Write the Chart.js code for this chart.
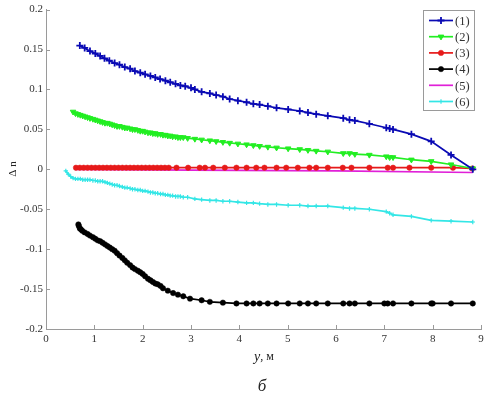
<!DOCTYPE html>
<html>
<head>
<meta charset="utf-8">
<script src="https://cdn.jsdelivr.net/npm/chart.js@4/dist/chart.umd.min.js"></script>
<style>
html,body{margin:0;padding:0;background:#fff;}
#wrap{width:489px;height:394px;position:relative;}
</style>
</head>
<body>
<div id="wrap"><canvas id="c" width="489" height="394"></canvas></div>
<script>
// ---- data ----
const seriesNames = ["(1)", "(2)", "(3)", "(4)", "(5)", "(6)"];
const xTicks = [0, 1, 2, 3, 4, 5, 6, 7, 8, 9];
const yTicks = [-0.2, -0.15, -0.1, -0.05, 0, 0.05, 0.1, 0.15, 0.2];

const x1 = [0.70,0.80,0.91,1.02,1.12,1.21,1.31,1.42,1.52,1.63,1.74,1.84,1.95,2.05,2.16,2.26,2.36,2.47,2.57,2.68,2.78,2.88,3.00,3.08,3.22,3.39,3.52,3.66,3.80,3.97,4.15,4.29,4.42,4.59,4.77,5.01,5.25,5.42,5.59,5.83,6.15,6.28,6.39,6.69,7.04,7.11,7.18,7.56,7.97,8.38,8.83];
const y1 = [0.155,0.152,0.148,0.145,0.142,0.139,0.136,0.133,0.131,0.128,0.126,0.123,0.121,0.119,0.117,0.115,0.113,0.111,0.109,0.107,0.105,0.104,0.102,0.100,0.097,0.095,0.093,0.091,0.088,0.086,0.084,0.082,0.081,0.079,0.077,0.075,0.073,0.071,0.069,0.067,0.064,0.062,0.061,0.057,0.052,0.051,0.050,0.044,0.035,0.018,0.000];

const x2 = [0.56,0.61,0.66,0.71,0.76,0.81,0.86,0.91,0.97,1.02,1.07,1.12,1.17,1.22,1.27,1.32,1.37,1.42,1.47,1.52,1.58,1.63,1.68,1.74,1.79,1.84,1.90,1.95,2.00,2.05,2.11,2.16,2.21,2.26,2.31,2.37,2.42,2.47,2.52,2.57,2.62,2.68,2.73,2.78,2.84,2.93,3.08,3.22,3.39,3.52,3.66,3.80,3.97,4.15,4.29,4.42,4.59,4.77,5.01,5.25,5.42,5.59,5.83,6.15,6.28,6.39,6.69,7.04,7.11,7.18,7.56,7.97,8.38,8.83];
const y2 = [0.072,0.070,0.069,0.068,0.067,0.066,0.065,0.064,0.063,0.062,0.061,0.060,0.059,0.058,0.058,0.057,0.056,0.055,0.054,0.054,0.053,0.052,0.052,0.051,0.050,0.050,0.049,0.048,0.048,0.047,0.046,0.046,0.045,0.045,0.044,0.044,0.043,0.043,0.042,0.042,0.041,0.041,0.040,0.040,0.040,0.039,0.038,0.037,0.036,0.035,0.034,0.033,0.032,0.031,0.030,0.029,0.028,0.027,0.026,0.025,0.024,0.023,0.022,0.020,0.020,0.019,0.018,0.016,0.015,0.015,0.012,0.010,0.006,0.001];

const x3 = [0.62,0.70,0.78,0.86,0.94,1.02,1.10,1.18,1.26,1.34,1.42,1.50,1.58,1.66,1.74,1.82,1.90,1.98,2.06,2.14,2.22,2.30,2.38,2.46,2.54,2.70,2.94,3.18,3.29,3.46,3.70,3.94,4.15,4.35,4.52,4.77,4.97,5.21,5.45,5.59,5.83,6.14,6.32,6.69,7.07,7.18,7.52,7.97,8.42,8.82];
const y3 = [0.002,0.002,0.002,0.002,0.002,0.002,0.002,0.002,0.002,0.002,0.002,0.002,0.002,0.002,0.002,0.002,0.002,0.002,0.002,0.002,0.002,0.002,0.002,0.002,0.002,0.002,0.002,0.002,0.002,0.002,0.002,0.002,0.002,0.002,0.002,0.002,0.002,0.002,0.002,0.002,0.002,0.002,0.002,0.002,0.002,0.002,0.002,0.002,0.002,0.001];

const x4 = [0.67,0.68,0.70,0.72,0.75,0.80,0.86,0.91,0.97,1.02,1.07,1.12,1.17,1.22,1.27,1.32,1.37,1.42,1.47,1.52,1.58,1.63,1.68,1.74,1.79,1.84,1.90,1.95,2.00,2.05,2.11,2.16,2.21,2.26,2.31,2.37,2.42,2.52,2.63,2.73,2.84,2.98,3.22,3.39,3.66,3.94,4.15,4.29,4.42,4.59,4.77,5.01,5.25,5.42,5.59,5.83,6.15,6.28,6.39,6.69,7.00,7.07,7.18,7.56,7.97,8.00,8.38,8.83];
const y4 = [-0.069,-0.071,-0.074,-0.075,-0.077,-0.079,-0.081,-0.083,-0.085,-0.087,-0.089,-0.090,-0.092,-0.094,-0.096,-0.098,-0.100,-0.102,-0.105,-0.108,-0.111,-0.114,-0.117,-0.120,-0.123,-0.125,-0.127,-0.129,-0.131,-0.134,-0.137,-0.139,-0.141,-0.143,-0.144,-0.146,-0.149,-0.152,-0.155,-0.157,-0.159,-0.162,-0.164,-0.166,-0.167,-0.168,-0.168,-0.168,-0.168,-0.168,-0.168,-0.168,-0.168,-0.168,-0.168,-0.168,-0.168,-0.168,-0.168,-0.168,-0.168,-0.168,-0.168,-0.168,-0.168,-0.168,-0.168,-0.168];

const x5 = [0.60, 3.00, 6.00, 8.83];
const y5 = [0.000, -0.001, -0.002, -0.004];

const x6 = [0.41,0.46,0.51,0.56,0.61,0.66,0.71,0.76,0.81,0.86,0.91,0.97,1.02,1.07,1.12,1.17,1.22,1.27,1.32,1.37,1.42,1.47,1.52,1.58,1.63,1.68,1.74,1.79,1.84,1.90,1.95,2.00,2.05,2.11,2.16,2.21,2.26,2.31,2.37,2.42,2.47,2.52,2.57,2.62,2.68,2.73,2.78,2.84,2.93,3.08,3.22,3.39,3.52,3.66,3.80,3.97,4.15,4.29,4.42,4.59,4.77,5.01,5.25,5.42,5.59,5.83,6.15,6.28,6.39,6.69,7.04,7.11,7.18,7.56,7.97,8.38,8.83];
const y6 = [-0.002,-0.006,-0.009,-0.011,-0.012,-0.012,-0.012,-0.013,-0.013,-0.013,-0.013,-0.014,-0.014,-0.015,-0.015,-0.015,-0.016,-0.017,-0.018,-0.019,-0.020,-0.020,-0.021,-0.022,-0.023,-0.023,-0.024,-0.025,-0.025,-0.026,-0.026,-0.027,-0.027,-0.028,-0.029,-0.029,-0.030,-0.030,-0.031,-0.031,-0.032,-0.032,-0.033,-0.033,-0.034,-0.034,-0.034,-0.035,-0.035,-0.037,-0.038,-0.039,-0.039,-0.040,-0.040,-0.041,-0.042,-0.042,-0.043,-0.044,-0.044,-0.045,-0.045,-0.046,-0.046,-0.046,-0.048,-0.049,-0.049,-0.050,-0.053,-0.055,-0.057,-0.059,-0.064,-0.065,-0.066];

// ---- build ----
function pts(xs, ys){ return xs.map((x,i)=>({x:x, y:ys[i]})); }
const SERIF = "'Liberation Serif', 'DejaVu Serif', serif";

const datasets = [
  {label: seriesNames[0], data: pts(x1,y1), borderColor:'#0a0ab4', backgroundColor:'#0a0ab4', pointStyle:'cross', pointRadius:3.5, pointBorderWidth:1.8, borderWidth:1.7},
  {label: seriesNames[1], data: pts(x2,y2), borderColor:'#22ee22', backgroundColor:'#22ee22', pointStyle:'triangle', pointRotation:180, pointRadius:3.2, pointBorderWidth:1, borderWidth:1.7},
  {label: seriesNames[2], data: pts(x3,y3), borderColor:'#e61a1a', backgroundColor:'#e61a1a', pointStyle:'circle', pointRadius:2.7, pointBorderWidth:0.5, borderWidth:1.7},
  {label: seriesNames[3], data: pts(x4,y4), borderColor:'#000000', backgroundColor:'#000000', pointStyle:'circle', pointRadius:2.7, pointBorderWidth:0.5, borderWidth:1.7},
  {label: seriesNames[4], data: pts(x5,y5), borderColor:'#e020d8', backgroundColor:'#e020d8', pointStyle:'circle', pointRadius:0, borderWidth:1.7},
  {label: seriesNames[5], data: pts(x6,y6), borderColor:'#33e6e6', backgroundColor:'#33e6e6', pointStyle:'cross', pointRadius:2.2, pointBorderWidth:1.2, borderWidth:1.7}
];
datasets.forEach(d=>{ d.showLine = true; d.tension = 0; d.fill = false; d.pointHoverRadius = d.pointRadius; });

const extras = {
  id: 'extras',
  afterDraw(chart){
    const ctx = chart.ctx, a = chart.chartArea;
    const xs = chart.scales.x, ys = chart.scales.y;
    ctx.save();
    // inward tick marks
    ctx.strokeStyle = '#9a9a9a'; ctx.lineWidth = 1;
    ctx.beginPath();
    xTicks.forEach(v=>{ const px = Math.round(xs.getPixelForValue(v))+0.5; ctx.moveTo(px, a.bottom); ctx.lineTo(px, a.bottom-4); });
    yTicks.forEach(v=>{ const py = Math.round(ys.getPixelForValue(v))+0.5; ctx.moveTo(a.left, py); ctx.lineTo(a.left+4, py); });
    ctx.stroke();
    // axis titles
    ctx.fillStyle = '#222';
    ctx.textBaseline = 'middle';
    ctx.font = 'italic 14px ' + SERIF;
    const t1 = 'y', t2 = ', м';
    const w1 = ctx.measureText(t1).width;
    ctx.font = '12px ' + SERIF;
    const w2 = ctx.measureText(t2).width;
    let sx = 264 - (w1+w2)/2;
    ctx.font = 'italic 14px ' + SERIF; ctx.textAlign='left';
    ctx.fillText(t1, sx, 357);
    ctx.font = '12px ' + SERIF;
    ctx.fillText(t2, sx+w1, 357);
    ctx.font = 'italic 17px ' + SERIF; ctx.textAlign='center';
    ctx.fillText('б', 262, 387);
    ctx.save();
    ctx.translate(13, 169); ctx.rotate(-Math.PI/2);
    ctx.font = '11px ' + SERIF; ctx.textAlign='center';
    ctx.fillText('Δ n', 0, 0);
    ctx.restore();
    // legend
    const bx = 423.5, by = 10.5, bw = 51, bh = 100;
    ctx.fillStyle = '#fff'; ctx.fillRect(bx, by, bw, bh);
    ctx.strokeStyle = '#9a9a9a'; ctx.lineWidth = 1; ctx.strokeRect(bx, by, bw, bh);
    chart.data.datasets.forEach((d,i)=>{
      const yy = by + 10 + i*16.2;
      ctx.strokeStyle = d.borderColor; ctx.lineWidth = 1.7;
      ctx.beginPath(); ctx.moveTo(429, yy); ctx.lineTo(453, yy); ctx.stroke();
      if (d.pointRadius > 0) {
        ctx.fillStyle = d.backgroundColor; ctx.strokeStyle = d.borderColor; ctx.lineWidth = d.pointBorderWidth||1;
        Chart.helpers.drawPoint(ctx, {pointStyle: d.pointStyle, rotation: d.pointRotation||0, radius: d.pointRadius, borderWidth: d.pointBorderWidth||1}, 441, yy);
      }
      ctx.fillStyle = '#333'; ctx.font = '12.5px ' + SERIF; ctx.textAlign = 'left'; ctx.textBaseline='middle';
      ctx.fillText(d.label, 455, yy+1);
    });
    ctx.restore();
  }
};

new Chart(document.getElementById('c'), {
  type: 'scatter',
  data: { datasets },
  options: {
    responsive: false,
    animation: false,
    events: [],
    layout: { padding: { top: 9, right: 8, left: 0, bottom: 0 } },
    plugins: { legend: { display: false }, tooltip: { enabled: false } },
    scales: {
      x: {
        type: 'linear', min: 0, max: 9,
        afterBuildTicks: s => { s.ticks = xTicks.map(v=>({value:v})); },
        afterFit: s => { s.height = 65; },
        grid: { drawOnChartArea: false, drawTicks: false },
        border: { color: '#9a9a9a', width: 1 },
        ticks: { padding: 4, color: '#333', font: { family: SERIF, size: 11 }, maxRotation: 0, autoSkip: false, callback: v => String(v) }
      },
      y: {
        type: 'linear', min: -0.2, max: 0.2,
        afterBuildTicks: s => { s.ticks = yTicks.map(v=>({value:v})); },
        afterFit: s => { s.width = 46; },
        grid: { drawOnChartArea: false, drawTicks: false },
        border: { color: '#9a9a9a', width: 1 },
        ticks: { padding: 3, color: '#333', font: { family: SERIF, size: 11 }, autoSkip: false, callback: v => String(Math.round(v*100)/100) }
      }
    }
  },
  plugins: [extras]
});
</script>
</body>
</html>
